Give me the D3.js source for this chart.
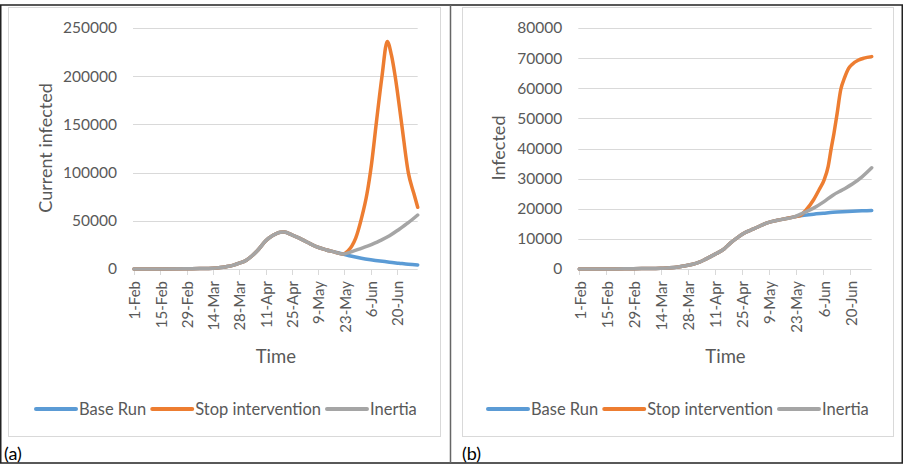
<!DOCTYPE html>
<html><head><meta charset="utf-8">
<script src="https://cdn.jsdelivr.net/npm/d3@7"></script>
<style>
body{margin:0;background:#fff}
svg{display:block}
text{font-family:Lato,"Open Sans",sans-serif}
</style>
</head><body>
<svg id="c" width="905" height="466"></svg>
<script>
// ---- data ----
const tickDays   = [0,14,28,42,56,70,84,98,112,126,140];
const tickLabels = ["1-Feb","15-Feb","29-Feb","14-Mar","28-Mar","11-Apr","25-Apr","9-May","23-May","6-Jun","20-Jun"];
const seriesNames = ["Base Run","Stop intervention","Inertia"];

// (a) Current infected
const aSharedDays = [0,14,28,35,42,46,49,53,56,60,63,66,70,74,78,80,84,88,92,97,102,106,111];
const aShared     = [0,0,200,400,800,1500,2400,4000,6000,9400,14000,19700,29000,35000,38200,38300,35500,32000,28000,23200,20000,18000,15600];
const aScenDays   = [111,116,121,126,131,136,141,146,151];
const aBase       = [15600,13200,11200,9600,8200,7000,6000,5000,4200];
const aInertia    = [15600,18000,21500,25000,29500,34500,41000,48000,56000];
const aStopDays   = [111,114,116,118,121,124,126.5,129,132,134.8,137,139,142.5,146,149,151];
const aStop       = [15600,19000,24000,32000,52000,78000,110000,152000,200000,236000,222000,200000,150000,100000,78000,64000];
const aYTicks     = [0,50000,100000,150000,200000,250000];

// (b) Infected (cumulative)
const bSharedDays = [0,14,28,35,42,49,54,58,62,65,68,71,75,78,82,85,90,97,104,111];
const bShared     = [0,0,100,150,250,500,1000,1500,2300,3200,4200,5200,6800,8600,10600,11900,13300,15300,16400,17300];
const bScenDays   = [111,116,121,126,131,136,141,146,151];
const bBase       = [17300,17800,18200,18500,18800,19000,19150,19300,19450];
const bInertia    = [17300,18700,20200,22200,24500,26300,28200,30600,33600];
const bStopDays   = [111,114,117,121,124,126.5,128.5,130,131.5,133,135,137,139,141,144,147,151];
const bStop       = [17300,17700,19500,23000,26500,29700,34000,39700,45000,51000,59500,63500,66500,68000,69300,70000,70500];
const bYTicks     = [0,10000,20000,30000,40000,50000,60000,70000,80000];

// ---- drawing ----
const svg = d3.select("#c");
const colors = ["#5b9bd5","#ed7d31","#a5a5a5"];
const txt = "#595959";

function join(sd, sv, dd, dv){
  const pts = sd.map((d,i)=>({d, v:sv[i]}));
  dd.forEach((d,i)=>{ if(i>0) pts.push({d, v:dv[i]}); });
  return pts;
}

// frame
svg.append("rect").attr("x",0.75).attr("y",5).attr("width",901.5).attr("height",458)
  .attr("fill","none").attr("stroke","#222").attr("stroke-width",1.5);
svg.append("line").attr("x1",450.5).attr("x2",450.5).attr("y1",5).attr("y2",463)
  .attr("stroke","#666").attr("stroke-width",1.5);

function chart(cfg){
  const g = svg.append("g");
  g.append("rect").attr("x",cfg.boxX).attr("y",7.5).attr("width",cfg.boxW).attr("height",429)
    .attr("fill","#fff").attr("stroke","#d9d9d9");
  const x = d3.scaleLinear().domain([0,151]).range([cfg.x0, cfg.x1]);
  const y = d3.scaleLinear().domain([0, cfg.yTicks[cfg.yTicks.length-1]]).range([269, 28]);

  // gridlines
  g.append("g").selectAll("line").data(cfg.yTicks.slice(1)).join("line")
    .attr("x1",cfg.x0-1).attr("x2",cfg.x1).attr("y1",d=>Math.round(y(d))+0.5).attr("y2",d=>Math.round(y(d))+0.5)
    .attr("stroke","#d9d9d9");
  // y labels
  g.append("g").selectAll("text").data(cfg.yTicks).join("text")
    .attr("x",cfg.x0-17).attr("y",d=>y(d)).attr("dy","0.35em").attr("text-anchor","end")
    .attr("fill",txt).attr("font-size",15.5).text(d3.format("d"));
  // x axis line & ticks
  g.append("line").attr("x1",cfg.x0-1).attr("x2",cfg.x1).attr("y1",269.5).attr("y2",269.5).attr("stroke","#d9d9d9");
  g.append("g").selectAll("line").data(tickDays).join("line")
    .attr("x1",d=>Math.round(x(d))+0.5).attr("x2",d=>Math.round(x(d))+0.5).attr("y1",269.5).attr("y2",275)
    .attr("stroke","#d9d9d9");
  g.append("g").selectAll("text").data(tickDays).join("text")
    .attr("transform",d=>`translate(${x(d)+1},281) rotate(-90)`)
    .attr("dy","0.35em").attr("text-anchor","end").attr("fill",txt).attr("font-size",15)
    .text((d,i)=>tickLabels[i]);
  // axis titles
  g.append("text").attr("x",(cfg.x0+cfg.x1)/2).attr("y",357).attr("dy","0.35em").attr("text-anchor","middle")
    .attr("fill",txt).attr("font-size",18.5).text("Time");
  g.append("text").attr("transform",`translate(${cfg.titleX},148) rotate(-90)`).attr("dy","0.35em")
    .attr("text-anchor","middle").attr("fill",txt).attr("font-size",18).text(cfg.yTitle);

  // lines
  const line = d3.line().x(p=>x(p.d)).y(p=>y(p.v)).curve(d3.curveMonotoneX);
  cfg.series.forEach((s,i)=>{
    g.append("path").datum(s).attr("d",line).attr("fill","none")
      .attr("stroke",colors[i]).attr("stroke-width",3.5).attr("stroke-linejoin","round").attr("stroke-linecap","round");
  });

  // legend
  let lx = cfg.legendX;
  seriesNames.forEach((n,i)=>{
    g.append("line").attr("x1",lx).attr("x2",lx+40).attr("y1",409).attr("y2",409)
      .attr("stroke",colors[i]).attr("stroke-width",4).attr("stroke-linecap","round");
    const t = g.append("text").attr("x",lx+43).attr("y",409).attr("dy","0.35em")
      .attr("fill",txt).attr("font-size",16.5).text(n);
    lx += 43 + t.node().getComputedTextLength() + 6;
  });

  // panel label
  g.append("text").attr("x",cfg.labelX).attr("y",454).attr("dy","0.35em").attr("fill","#000")
    .attr("font-size",18).text(cfg.label);
}

chart({
  boxX:8.5, boxW:432, x0:134, x1:417.7, titleX:46, yTicks:aYTicks, yTitle:"Current infected",
  legendX:36, label:"(a)", labelX:4,
  series:[join(aSharedDays,aShared,aScenDays,aBase), join(aSharedDays,aShared,aStopDays,aStop), join(aSharedDays,aShared,aScenDays,aInertia)]
});
chart({
  boxX:462.5, boxW:431, x0:579.3, x1:871.7, titleX:499, yTicks:bYTicks, yTitle:"Infected",
  legendX:488, label:"(b)", labelX:462,
  series:[join(bSharedDays,bShared,bScenDays,bBase), join(bSharedDays,bShared,bStopDays,bStop), join(bSharedDays,bShared,bScenDays,bInertia)]
});
</script>
</body></html>
